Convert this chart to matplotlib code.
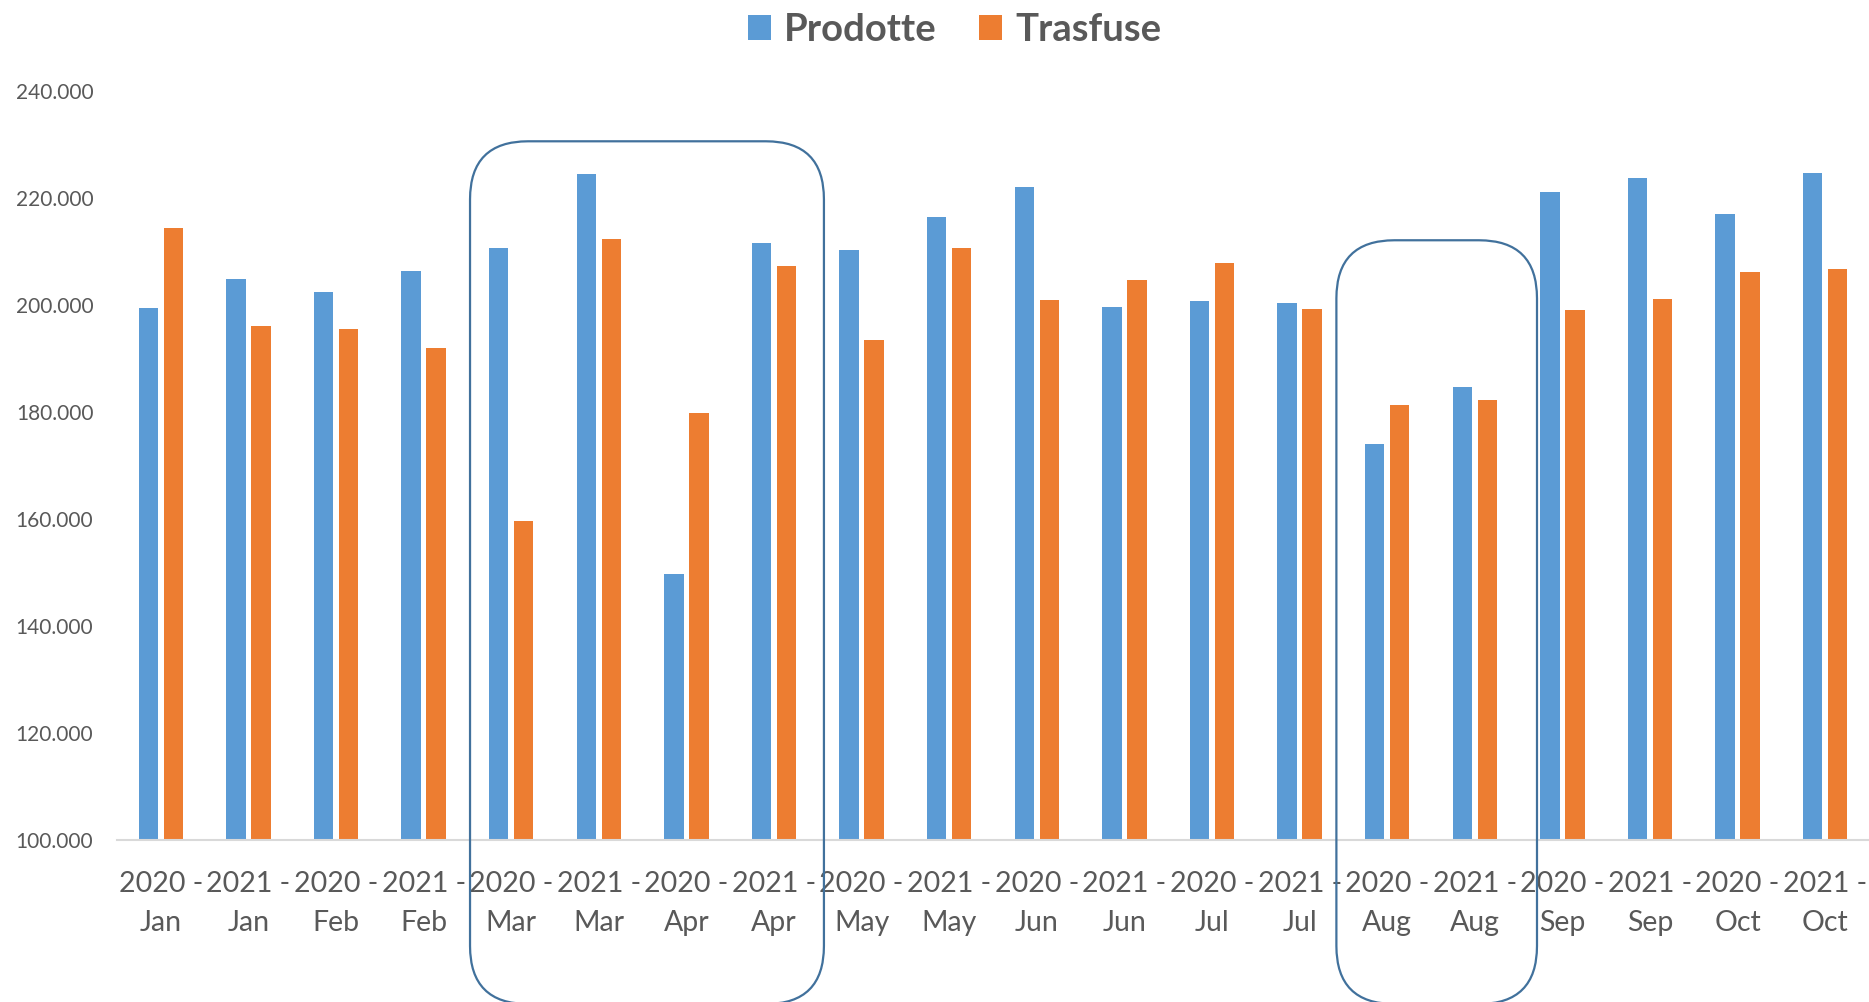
import matplotlib
matplotlib.use("Agg")
import matplotlib.pyplot as plt
import numpy as np
from matplotlib.patches import FancyBboxPatch, Patch
from matplotlib.transforms import IdentityTransform
from matplotlib.ticker import FuncFormatter, MultipleLocator

# ---- data ----
months = ["Jan", "Jan", "Feb", "Feb", "Mar", "Mar", "Apr", "Apr", "May", "May",
          "Jun", "Jun", "Jul", "Jul", "Aug", "Aug", "Sep", "Sep", "Oct", "Oct"]
years = ["2020", "2021"] * 10
categories = [f"{y} -\n{m}" for y, m in zip(years, months)]

prodotte = [199500, 204800, 202400, 206300, 210700, 224500, 149800, 211500, 210200, 216400,
            222000, 199700, 200700, 200300, 174000, 184700, 221100, 223700, 217000, 224600]
trasfuse = [214400, 196100, 195600, 192000, 159600, 212300, 179900, 207200, 193500, 210600,
            201000, 204700, 207900, 199300, 181400, 182300, 199100, 201200, 206100, 206700]

series_names = ["Prodotte", "Trasfuse"]
colors = ["#5B9BD5", "#ED7D31"]

# highlighted category ranges (annotation boxes): (x_left, x_right, y_top)
highlights = [(3.53, 7.57, 230600), (13.42, 15.71, 212100)]

W, H = 1869, 1002
fig = plt.figure(figsize=(W / 100, H / 100), dpi=100)
plt.rcParams['font.family'] = ['Lato', 'DejaVu Sans']

ax = fig.add_axes([117 / W, (H - 840) / H, 1 - 117 / W, (840 - 91) / H])

x = np.arange(len(categories))
bw = 0.22
off = 0.143
ax.bar(x - off, prodotte, width=bw, color=colors[0], zorder=2)
ax.bar(x + off, trasfuse, width=bw, color=colors[1], zorder=2)

ax.set_xlim(-0.5, len(categories) - 0.5)
ax.set_ylim(100000, 240000)
ax.yaxis.set_major_locator(MultipleLocator(20000))
ax.yaxis.set_major_formatter(FuncFormatter(lambda v, p: f"{int(v):,}".replace(",", ".")))

for s in ["top", "right", "left"]:
    ax.spines[s].set_visible(False)
ax.spines["bottom"].set_color("#D9D9D9")
ax.spines["bottom"].set_linewidth(1.5)

ax.set_xticks(x)
ax.set_xticklabels(categories, fontsize=20.5, color="#595959", linespacing=1.6)
ax.tick_params(axis="x", length=0, pad=22.5)
ax.tick_params(axis="y", length=0, pad=17, labelsize=15, labelcolor="#595959")

# legend
handles = [Patch(facecolor=c, edgecolor='none') for c in colors]
leg = fig.legend(handles, series_names, loc="center", bbox_to_anchor=(954.5 / W, 1 - 30 / H),
                 ncol=2, frameon=False, prop={"weight": "bold", "size": 27.5},
                 handlelength=0.6, handleheight=0.6, handletextpad=0.35, columnspacing=1.1)
for t in leg.get_texts():
    t.set_color("#595959")

# highlight boxes (rounded rectangles, extend below figure)
for xl, xr, yt in highlights:
    p1 = ax.transData.transform((xl, yt))
    p2 = ax.transData.transform((xr, yt))
    bottom = -2
    box = FancyBboxPatch((p1[0], bottom), p2[0] - p1[0], p1[1] - bottom,
                         boxstyle="round,pad=0,rounding_size=58",
                         transform=IdentityTransform(), fill=False,
                         edgecolor="#41719C", linewidth=1.6, zorder=5, clip_on=False)
    fig.patches.append(box)

fig.savefig("out.png", dpi=100)
